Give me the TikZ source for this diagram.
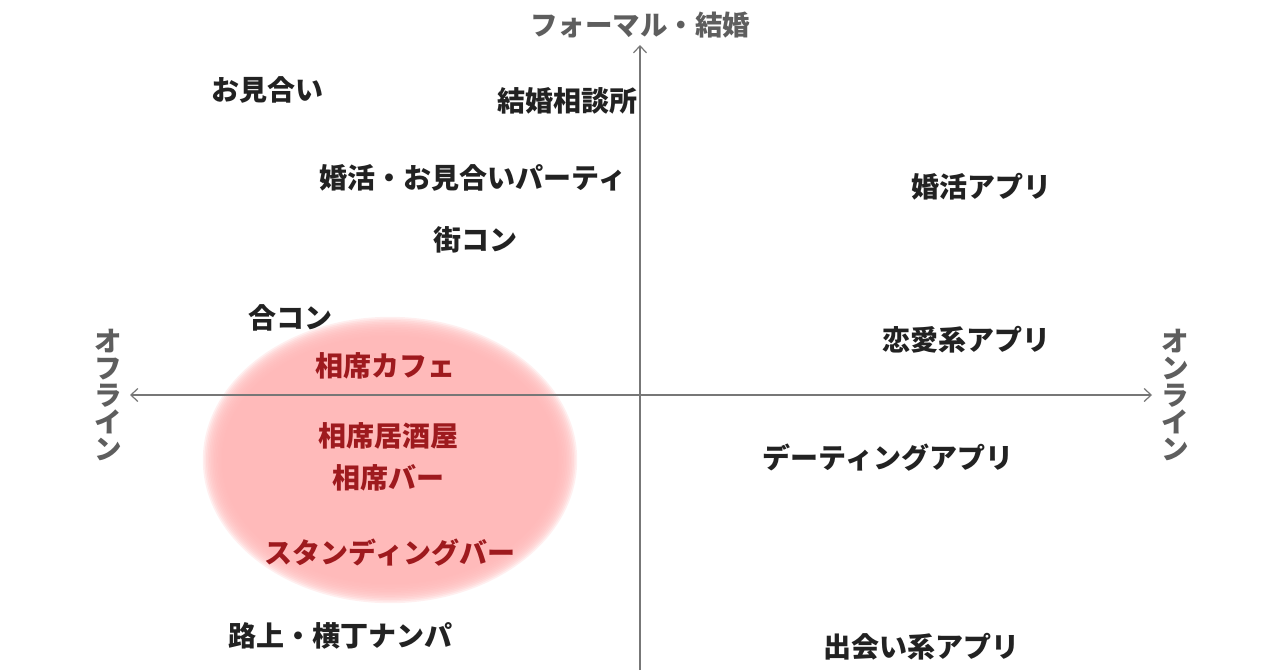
\documentclass[tikz,border=0pt]{standalone}
\usepackage{fontspec}
\setmainfont{Noto Sans CJK JP}
\usetikzlibrary{arrows.meta}
\definecolor{axisgray}{HTML}{777777}
\definecolor{labelgray}{HTML}{5E5E5E}
\definecolor{txtdark}{HTML}{222222}
\definecolor{txtred}{HTML}{9E1A1E}
\definecolor{blobpink}{HTML}{FFBABA}
\tikzset{
  lbl/.style={inner sep=0pt, text=txtdark, font=\fontsize{28}{28}\selectfont\bfseries},
  redlbl/.style={lbl, text=txtred},
  axislbl/.style={inner sep=0pt, text=labelgray, font=\fontsize{27.5}{27}\selectfont\bfseries, align=center},
  axisline/.style={draw=axisgray, line width=1.2pt, arrows={Straight Barb[length=7pt,width=13pt,line width=1.2pt]-Straight Barb[length=7pt,width=13pt,line width=1.2pt]}},
  axisup/.style={draw=axisgray, line width=1.2pt, -{Straight Barb[length=7pt,width=13pt,line width=1.2pt]}}
}
\begin{document}
\begin{tikzpicture}[x=1pt,y=-1pt]
\useasboundingbox (0,0) rectangle (1280,670);
\fill[white] (0,0) rectangle (1280,670);
% soft pink blob
\fill[blobpink] (390,460) ellipse (168 and 124);
\foreach \i in {1,...,12}{
  \fill[blobpink, opacity=0.22] (390,460) ellipse ({168+1.6*\i} and {124+1.6*\i});
}
% axes
\coordinate (L) at (130,395);
\coordinate (R) at (1152,395);
\coordinate (B) at (640,670);
\coordinate (T) at (640,45);
\draw[axisline] (L) -- (R);
\draw[axisup] (B) -- (T);
% axis labels
\node[axislbl] (top) at (640,25) {フォーマル・結婚};
\node[axislbl] (off) at (108,395) {オ\\フ\\ラ\\イ\\ン};
\node[axislbl] (on) at (1175,395) {オ\\ン\\ラ\\イ\\ン};
% labels
\node[lbl] (omiai) at (267,90) {お見合い};
\node[lbl] (soudan) at (567,101) {結婚相談所};
\node[lbl] (party) at (473,178) {婚活・お見合いパーティ};
\node[lbl] (machi) at (475,240) {街コン};
\node[lbl] (goukon) at (290,318) {合コン};
\node[redlbl] (cafe) at (385,366) {相席カフェ};
\node[redlbl] (izakaya) at (388,436) {相席居酒屋};
\node[redlbl] (bar) at (388,478) {相席バー};
\node[redlbl] (standing) at (390,553) {スタンディングバー};
\node[lbl] (nanpa) at (340,636) {路上・横丁ナンパ};
\node[lbl] (konkatsu) at (981,187) {婚活アプリ};
\node[lbl] (renai) at (966,340) {恋愛系アプリ};
\node[lbl] (dating) at (888,458) {デーティングアプリ};
\node[lbl] (deai) at (921,647) {出会い系アプリ};
\end{tikzpicture}
\end{document}
